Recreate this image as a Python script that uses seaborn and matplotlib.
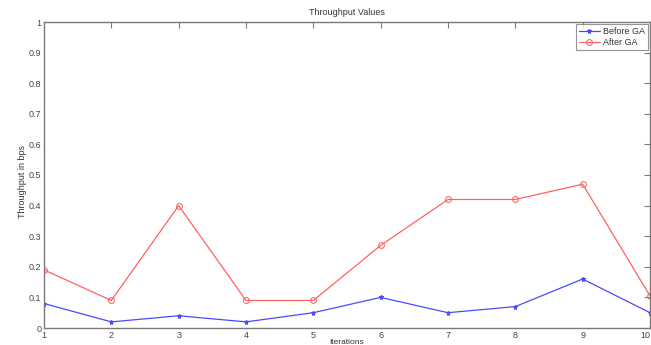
import matplotlib
matplotlib.use("Agg")
import matplotlib.pyplot as plt
import seaborn as sns
import pandas as pd

iterations = [1, 2, 3, 4, 5, 6, 7, 8, 9, 10]
before_ga = [0.08, 0.02, 0.04, 0.02, 0.05, 0.10, 0.05, 0.07, 0.16, 0.05]
after_ga = [0.19, 0.09, 0.40, 0.09, 0.09, 0.27, 0.42, 0.42, 0.47, 0.105]
series_names = ["Before GA", "After GA"]
y_ticks = [0, 0.1, 0.2, 0.3, 0.4, 0.5, 0.6, 0.7, 0.8, 0.9, 1]
y_tick_labels = ["0", "0.1", "0.2", "0.3", "0.4", "0.5", "0.6", "0.7", "0.8", "0.9", "1"]

df = pd.DataFrame({
    "Iteration": iterations * 2,
    "Throughput": before_ga + after_ga,
    "Series": [series_names[0]] * len(iterations) + [series_names[1]] * len(iterations),
})

sns.set_theme(style="white")
plt.rcParams["font.family"] = ["Liberation Sans", "DejaVu Sans"]

fig = plt.figure(figsize=(6.51, 3.45), dpi=100)
ax = fig.add_axes([44 / 651, 1 - 328 / 345, (650 - 44) / 651, (328 - 22) / 345])

palette = {"Before GA": "#4a4aff", "After GA": "#ff6262"}
sns.lineplot(data=df, x="Iteration", y="Throughput", hue="Series", style="Series",
             markers={"Before GA": "*", "After GA": "o"}, dashes=False,
             palette=palette, linewidth=0.9, markersize=4,
             ax=ax)

# blue star markers are filled, red circles are hollow
for line in ax.lines:
    if line.get_color() == palette["Before GA"]:
        line.set_markerfacecolor(palette["Before GA"])
        line.set_markeredgecolor(palette["Before GA"])
        line.set_markersize(3.6)
    else:
        line.set_markerfacecolor("none")
        line.set_markeredgecolor(palette["After GA"])
        line.set_markersize(4.2)

ax.set_xlim(1, 10)
ax.set_ylim(0, 1)
ax.set_xticks(iterations)
ax.set_xticklabels([str(i) for i in iterations])
ax.set_yticks(y_ticks)
ax.set_yticklabels(y_tick_labels)
ax.get_xticklabels()[-1].set_horizontalalignment("right")

for s in ax.spines.values():
    s.set_color("#7a7a7a")
    s.set_linewidth(1.0)
    s.set_visible(True)

ax.tick_params(direction="in", length=4, width=0.8, color="#7a7a7a",
               labelsize=6.5, labelcolor="#444444", top=True, right=True,
               pad=2)

ax.set_title("Throughput Values", fontsize=6.5, color="#333333", pad=5)
ax.set_xlabel("Iterations", fontsize=6, color="#333333")
ax.xaxis.label.set_va("bottom")
ax.xaxis.set_label_coords(0.5, -17.5 / 306)
ax.set_ylabel("Throughput in bps", fontsize=6.5, color="#333333")
ax.yaxis.set_label_coords(-17 / 606, 0.48)

leg = ax.legend(loc="upper right", fontsize=6.5, frameon=True, fancybox=False,
                borderpad=0.35, handlelength=2.3, handletextpad=0.3,
                labelspacing=0.2, borderaxespad=0.25)
leg.get_frame().set_edgecolor("#7a7a7a")
leg.get_frame().set_linewidth(0.8)
for t in leg.get_texts():
    t.set_color("#333333")

fig.savefig("out.png", dpi=100, facecolor="white")
